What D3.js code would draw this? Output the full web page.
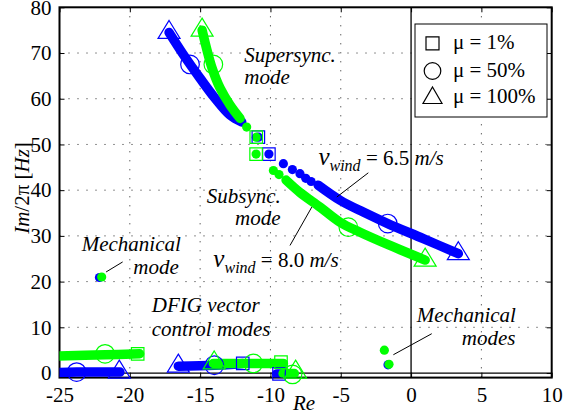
<!DOCTYPE html>
<html>
<head>
<meta charset="utf-8">
<script src="https://cdn.jsdelivr.net/npm/d3@7"></script>
<style>
  body { margin: 0; background: #fff; }
</style>
</head>
<body>
<div id="chart"></div>
<script>
// axis ticks
const xTicks = [-25, -20, -15, -10, -5, 0, 5, 10];
const yTicks = [0, 10, 20, 30, 40, 50, 60, 70, 80];

// v_wind = 6.5 m/s (blue) tracks, [Re, Im/2pi]
const blueSuperLine = [[-17.21, 74.5], [-16.07, 69.1], [-15.01, 64.5], [-13.94, 60.1], [-12.87, 56.4], [-12.04, 54.9]];
const blueSubDots = [[-10.11, 47.9], [-9.08, 45.8], [-8.44, 44.5], [-7.9, 43.6], [-7.49, 42.6], [-7.11, 41.9], [-10.86, 51.6]];
const blueSubLine = [[-6.61, 41.1], [-5.05, 37.8], [-3.4, 35.2], [-1.66, 32.7], [0.87, 29.4], [3.36, 26.1]];
const blueLow1 = [[-25.09, 0.1], [-23.78, 0.2], [-20.7, 0.2]];
const blueLow2 = [[-16.55, 1.5], [-13.99, 1.7], [-11.97, 2.1]];
const blueLow3 = [[-9.55, -0.2], [-9.2, -0.2]];
const blueSingles = [[-22.16, 20.9], [-1.64, 1.8]];
const blueSquares = [[-10.86, 51.6], [-10.11, 47.9], [-11.97, 2.1], [-9.39, -0.2]];
const blueCircles = [[-15.72, 67.5], [-1.66, 32.7], [-23.78, 0.2], [-13.99, 1.7]];
const blueTriangles = [[-17.21, 74.5], [3.36, 26.1], [-20.75, 0.2], [-16.55, 1.5]];

// v_wind = 8.0 m/s (green) tracks
const greenSuperLine = [[-14.86, 75.0], [-14.51, 70.6], [-14.15, 66.7], [-13.58, 62.3], [-12.87, 58.6], [-12.16, 55.7]];
const greenSubDots = [[-11.69, 53.8], [-11.01, 51.6], [-11.02, 47.9], [-9.79, 44.3], [-9.39, 43.4]];
const greenSubLine = [[-8.89, 42.2], [-7.9, 39.5], [-6.47, 36.3], [-5.05, 33.0], [-3.63, 30.8], [-1.5, 27.9], [1.0, 24.7]];
const greenLow1 = [[-25.09, 3.7], [-21.76, 4.0], [-19.3, 4.2]];
const greenLow2 = [[-14.06, 2.1], [-11.22, 2.1], [-9.08, 2.1]];
const greenLow3 = [[-9.1, -0.1], [-8.3, -0.1]];
const greenSingles = [[-22.0, 21.0], [-1.9, 5.0], [-1.57, 1.9]];
const greenSquares = [[-11.01, 51.6], [-11.02, 47.9], [-19.44, 4.2], [-9.25, 2.4]];
const greenCircles = [[-14.06, 67.5], [-4.46, 31.9], [-21.76, 4.2], [-11.22, 2.1], [-8.43, -0.3]];
const greenTriangles = [[-14.86, 75.0], [1.0, 24.7], [-14.0, 2.2], [-8.21, 0.2]];

const legendLabels = ['\u03bc = 1%', '\u03bc = 50%', '\u03bc = 100%'];

const width = 565, height = 416;
const margin = { top: 7.3, right: 13.3, bottom: 38.4, left: 59.5 };
const blue = '#0000ff', green = '#00ff00';

const svg = d3.select('#chart').append('svg')
  .attr('width', width)
  .attr('height', height);

const x = d3.scaleLinear().domain([-25, 10]).range([margin.left, width - margin.right]);
const y = d3.scaleLinear().domain([-1, 80]).range([height - margin.bottom, margin.top]);

svg.append('clipPath').attr('id', 'clip')
  .append('rect')
  .attr('x', x(-25)).attr('y', y(80))
  .attr('width', x(10) - x(-25)).attr('height', y(-1) - y(80));

// dotted grid
const grid = svg.append('g');
grid.selectAll('.gx').data(xTicks.slice(1, -1).filter(d => d !== 0)).enter()
  .append('line')
  .attr('x1', d => x(d)).attr('x2', d => x(d))
  .attr('y1', y(80)).attr('y2', y(-1))
  .attr('stroke', '#222').attr('stroke-width', 1).attr('stroke-dasharray', '1,8');
grid.selectAll('.gy').data(yTicks.slice(1, -1)).enter()
  .append('line')
  .attr('x1', x(-25)).attr('x2', x(10))
  .attr('y1', d => y(d)).attr('y2', d => y(d))
  .attr('stroke', '#222').attr('stroke-width', 1).attr('stroke-dasharray', '1,8');

// zero lines
svg.append('line').attr('x1', x(0)).attr('x2', x(0)).attr('y1', y(80)).attr('y2', y(-1))
  .attr('stroke', '#000').attr('stroke-width', 1.3);
svg.append('line').attr('x1', x(-25)).attr('x2', x(10)).attr('y1', y(0)).attr('y2', y(0))
  .attr('stroke', '#000').attr('stroke-width', 1.3);

// axes (ticks inward on all sides)
const tickLen = 5;
const fmt = d => d < 0 ? '-' + Math.abs(d) : String(d);
svg.append('g').attr('transform', `translate(0,${y(-1)})`)
  .call(d3.axisBottom(x).tickValues(xTicks).tickSizeInner(-tickLen).tickSizeOuter(0).tickPadding(9).tickFormat(fmt));
svg.append('g').attr('transform', `translate(0,${y(80)})`)
  .call(d3.axisTop(x).tickValues(xTicks).tickSizeInner(-tickLen).tickSizeOuter(0).tickFormat(''));
svg.append('g').attr('transform', `translate(${x(-25)},0)`)
  .call(d3.axisLeft(y).tickValues(yTicks).tickSizeInner(-tickLen).tickSizeOuter(0).tickPadding(8));
svg.append('g').attr('transform', `translate(${x(10)},0)`)
  .call(d3.axisRight(y).tickValues(yTicks).tickSizeInner(-tickLen).tickSizeOuter(0).tickFormat(''));

svg.selectAll('.domain').remove();
svg.selectAll('.tick line').attr('stroke', '#000').attr('stroke-width', 1);
svg.selectAll('.tick text').attr('fill', '#000').style('font-size', '21px');

svg.append('rect')
  .attr('x', x(-25)).attr('y', y(80))
  .attr('width', x(10) - x(-25)).attr('height', y(-1) - y(80))
  .attr('fill', 'none').attr('stroke', '#000').attr('stroke-width', 2);

// marks
const plot = svg.append('g').attr('clip-path', 'url(#clip)');
const line = d3.line().x(d => x(d[0])).y(d => y(d[1])).curve(d3.curveCatmullRom);

function track(pts, color) {
  plot.append('path').datum(pts)
    .attr('d', line)
    .attr('fill', 'none').attr('stroke', color)
    .attr('stroke-width', 9.5).attr('stroke-linecap', 'round').attr('stroke-linejoin', 'round');
}
function dots(pts, color) {
  plot.selectAll(null).data(pts).enter().append('circle')
    .attr('cx', d => x(d[0])).attr('cy', d => y(d[1])).attr('r', 4.6)
    .attr('fill', color);
}
function squareSym(s) { return `M${-s / 2},${-s / 2}h${s}v${s}h${-s}Z`; }
function triSym(w, h) { return `M0,${-2 * h / 3}L${w / 2},${h / 3}L${-w / 2},${h / 3}Z`; }

function markers(g, pts, color, kind) {
  const sel = g.selectAll(null).data(pts).enter();
  if (kind === 'square') {
    sel.append('path').attr('d', squareSym(12.5))
      .attr('transform', d => `translate(${x(d[0])},${y(d[1])})`);
  } else if (kind === 'circle') {
    sel.append('circle').attr('r', 9.3)
      .attr('cx', d => x(d[0])).attr('cy', d => y(d[1]));
  } else {
    sel.append('path').attr('d', triSym(22, 18))
      .attr('transform', d => `translate(${x(d[0])},${y(d[1])})`);
  }
  g.selectAll('path, circle').attr('fill', 'none').attr('stroke', color).attr('stroke-width', 1.2);
}

// blue series
track(blueSuperLine, blue);
track(blueSubLine, blue);
track(blueLow1, blue);
track(blueLow2, blue);
track(blueLow3, blue);
dots(blueSubDots, blue);
dots(blueSingles, blue);
const bm = svg.append('g');
markers(bm.append('g'), blueSquares, blue, 'square');
markers(bm.append('g'), blueCircles, blue, 'circle');
markers(bm.append('g'), blueTriangles, blue, 'triangle');

// green series
track(greenSuperLine, green);
track(greenSubLine, green);
track(greenLow1, green);
track(greenLow2, green);
track(greenLow3, green);
dots(greenSubDots, green);
dots(greenSingles, green);
const gm = svg.append('g');
markers(gm.append('g'), greenSquares, green, 'square');
markers(gm.append('g'), greenCircles, green, 'circle');
markers(gm.append('g'), greenTriangles, green, 'triangle');

// annotations (data coordinates)
const ann = svg.append('g');
function label(px, py, str) {
  ann.append('text').attr('x', x(px)).attr('y', y(py))
    .style('font-size', '21px').style('font-style', 'italic').text(str);
}
label(-11.86, 68.0, 'Supersync.');
label(-11.86, 63.3, 'mode');
label(-14.53, 37.1, 'Subsync.');
label(-12.52, 32.3, 'mode');
label(-23.42, 26.8, 'Mechanical');
label(-19.75, 21.7, 'mode');
label(-18.44, 13.3, 'DFIG vector');
label(-18.44, 8.2, 'control modes');
label(0.41, 11.2, 'Mechanical');
label(3.61, 6.1, 'modes');

function vwind(px, py, val) {
  const t = ann.append('text').attr('x', x(px)).attr('y', y(py)).style('font-size', '21px');
  t.append('tspan').style('font-style', 'italic').style('font-size', '25px').text('v');
  t.append('tspan').attr('dy', 6).style('font-style', 'italic').style('font-size', '16px').text('wind');
  t.append('tspan').attr('dy', -6).text(' = ' + val + ' ');
  t.append('tspan').style('font-style', 'italic').text('m/s');
}
vwind(-6.59, 45.4, '6.5');
vwind(-14.06, 23.2, '8.0');

const leaders = [
  [[-3.04, 43.8], [-5.28, 38.5]],
  [[-8.61, 27.9], [-7.06, 36.3]],
  [[-21.69, 22.1], [-20.51, 24.3]],
  [[-1.26, 4.0], [1.47, 8.6]]
];
svg.append('g').selectAll('line').data(leaders).enter().append('line')
  .attr('x1', d => x(d[0][0])).attr('y1', d => y(d[0][1]))
  .attr('x2', d => x(d[1][0])).attr('y2', d => y(d[1][1]))
  .attr('stroke', '#000').attr('stroke-width', 1);

// axis labels
svg.append('text').attr('x', 293).attr('y', 410)
  .style('font-size', '21px').style('font-style', 'italic').text('Re');
const yl = svg.append('text')
  .attr('transform', `translate(29,188) rotate(-90)`)
  .attr('text-anchor', 'middle').style('font-size', '21px');
yl.append('tspan').style('font-style', 'italic').text('Im');
yl.append('tspan').text('/2\u03c0 [');
yl.append('tspan').style('font-style', 'italic').text('Hz');
yl.append('tspan').text(']');

// legend
const lg = svg.append('g').attr('transform', 'translate(415,24)');
lg.append('rect').attr('width', 132).attr('height', 93)
  .attr('fill', '#fff').attr('stroke', '#000').attr('stroke-width', 1);
const kinds = ['square', 'circle', 'triangle'];
const rowsY = [19.3, 47, 73];
kinds.forEach((k, i) => {
  const cx = 17.5, cy = rowsY[i];
  if (k === 'square') {
    lg.append('path').attr('d', squareSym(13)).attr('transform', `translate(${cx},${cy})`);
  } else if (k === 'circle') {
    lg.append('circle').attr('cx', cx).attr('cy', cy).attr('r', 8.3);
  } else {
    lg.append('path').attr('d', triSym(19, 16.5)).attr('transform', `translate(${cx},${cy + 1})`);
  }
  lg.append('text').attr('x', 38).attr('y', cy + 6).style('font-size', '21px').text(legendLabels[i]);
});
lg.selectAll('path, circle').attr('fill', 'none').attr('stroke', '#000').attr('stroke-width', 1.2);

// serif font on every text
svg.selectAll('text').style('font-family', "'Liberation Serif'");
</script>
</body>
</html>
